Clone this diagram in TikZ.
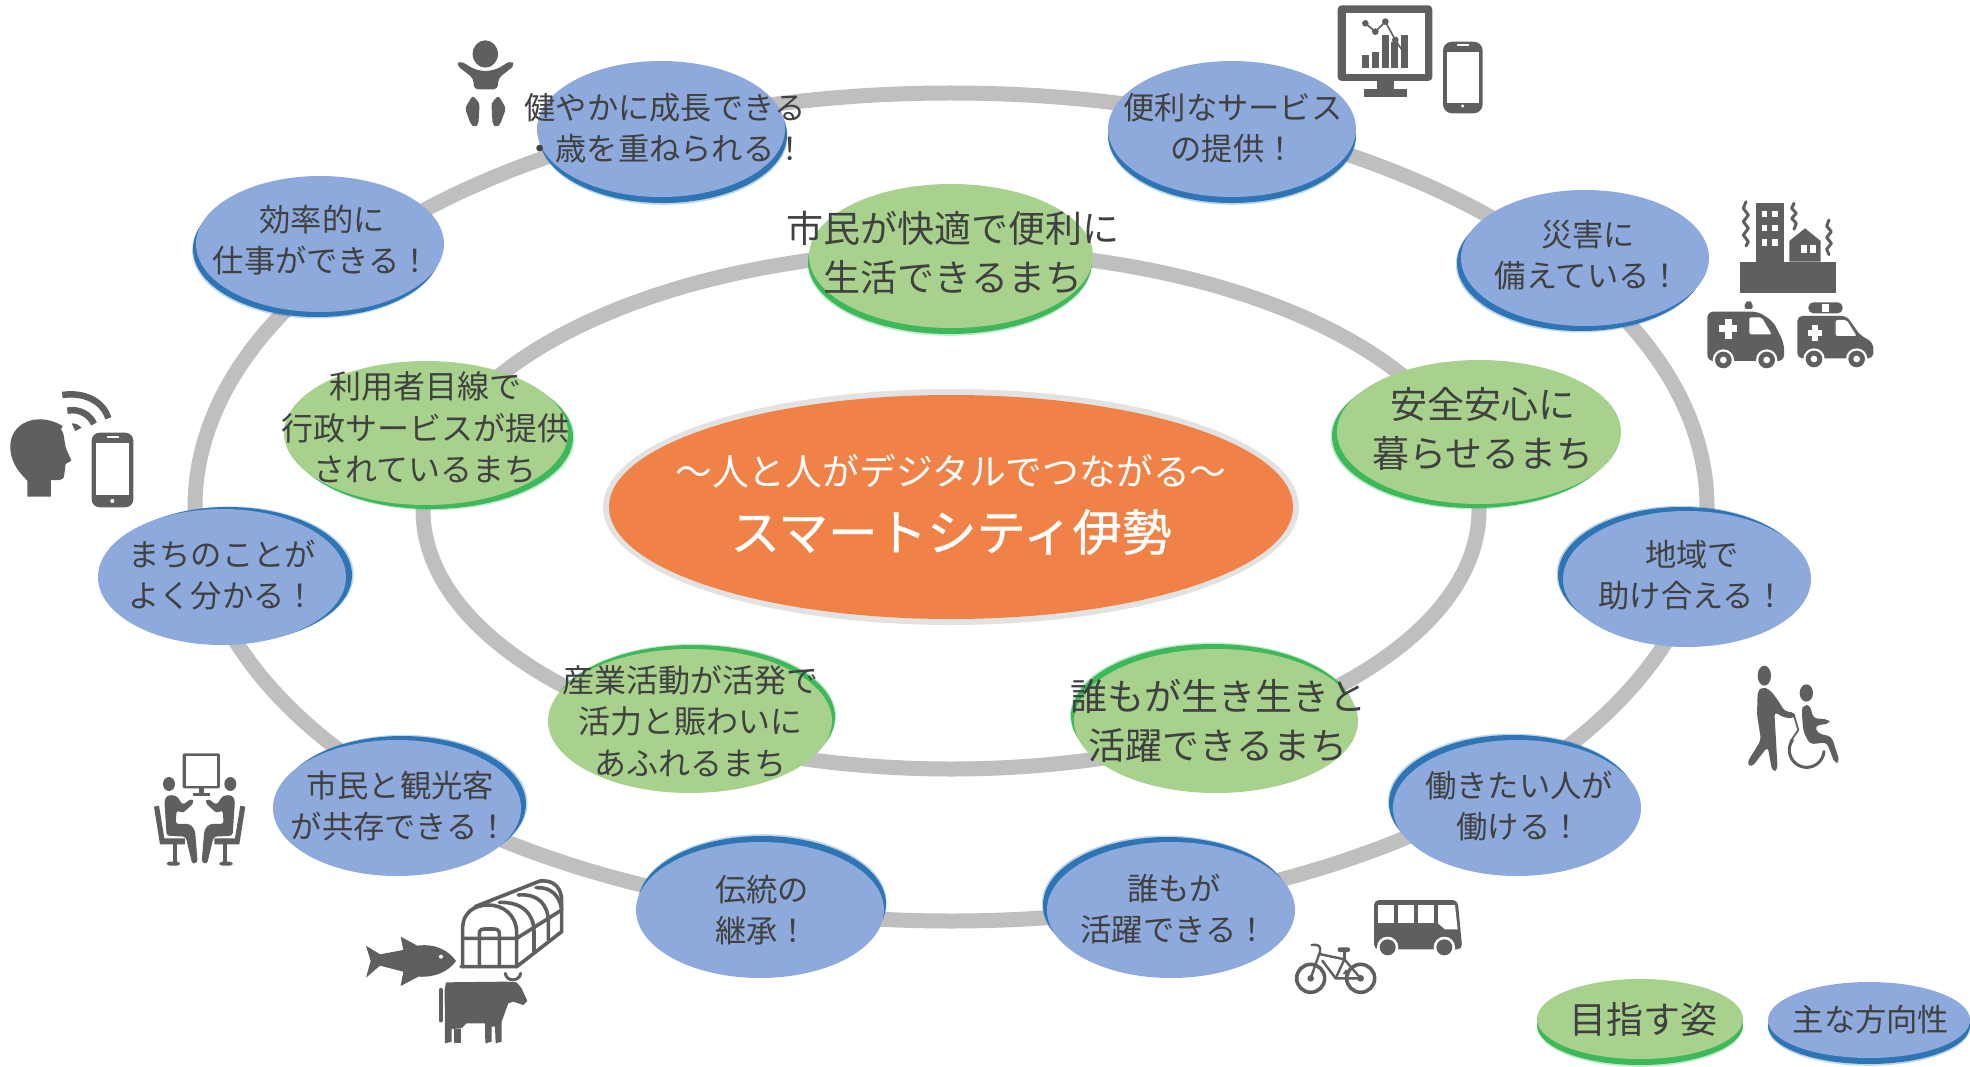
\documentclass[tikz,border=0pt]{standalone}
\usepackage{fontspec}
\newfontfamily\jpfont{Noto Sans CJK JP}
\newfontfamily\jpheavy[FakeBold=0.7]{Noto Sans CJK JP}
\usetikzlibrary{shapes.geometric,shadows}
\definecolor{ringgrey}{HTML}{BFBFBF}
\definecolor{icongrey}{HTML}{5F5F5F}
\definecolor{textgrey}{HTML}{404040}
\definecolor{bluefill}{HTML}{8EA9DB}
\definecolor{blueshade}{HTML}{2E75B6}
\definecolor{greenfill}{HTML}{A9D18E}
\definecolor{greenshade}{HTML}{3DB85A}
\definecolor{orangefill}{HTML}{F08247}
\tikzset{
  ringline/.style={draw=ringgrey,line width=15pt},
  bluenode/.style 2 args={ellipse,fill=bluefill,draw=none,inner sep=0pt,outer sep=0pt,minimum width=248pt,minimum height=136pt,
    general shadow={shadow xshift=#1*1.3pt,shadow yshift=#2*1.3pt,fill=blueshade,opacity=.3},
    general shadow={shadow xshift=#1*1pt,shadow yshift=#2*1pt,fill=blueshade}},
  greennode/.style 2 args={ellipse,fill=greenfill,draw=none,inner sep=0pt,outer sep=0pt,minimum width=284pt,minimum height=144pt,
    general shadow={shadow xshift=#1*1.3pt,shadow yshift=#2*1.3pt,fill=greenshade,opacity=.3},
    general shadow={shadow xshift=#1*1pt,shadow yshift=#2*1pt,fill=greenshade}},
  bluetext/.style={align=center,inner sep=0pt,text=textgrey,font=\jpfont\fontsize{31.3}{41.5}\selectfont},
  greentext/.style={align=center,inner sep=0pt,text=textgrey,font=\jpfont\fontsize{37}{49}\selectfont},
  smalltext/.style={align=center,inner sep=0pt,text=textgrey,font=\jpfont\fontsize{32}{41.5}\selectfont},
  icon/.style={fill=icongrey,draw=none},
  iconline/.style={draw=icongrey,line width=3.6pt,line join=round,line cap=round,fill=none},
  sitter/.pic={
    \fill[icongrey] (72,117) ellipse [x radius=18,y radius=21];
    \fill[icongrey,rounded corners=3pt] (58,165) -- (68,150) -- (95,152) -- (113,180) -- (140,160) -- (148,172) -- (113,205) -- (95,195) -- (92,237) -- (135,237) -- (150,255) -- (158,352) -- (142,358) -- (122,275) -- (65,272) -- cycle;
    \fill[icongrey] (27,185) -- (42,182) -- (58,280) -- (120,280) -- (120,298) -- (45,298) -- cycle;
    \fill[icongrey] (83,298) rectangle (95,352);
    \fill[icongrey,rounded corners=3pt] (65,350) rectangle (105,362);
  }
}
\begin{document}
\begin{tikzpicture}[x=1pt,y=-1pt]
        \useasboundingbox (0,0) rectangle (1970,1067);
        %%%%%%%%%% Rings %%%%%%%%%%
        \coordinate (ringcenter) at (951,507);
        \draw[ringline] (ringcenter) ellipse [x radius=756pt,y radius=414pt];
        \draw[ringline] (951,510) ellipse [x radius=528pt,y radius=259pt];

        %%%%%%%%%% Ellipses %%%%%%%%%%
        \node[ellipse,fill=black!45,opacity=.25,inner sep=0pt,minimum width=696pt,minimum height=236pt] (titleshade) at (951,507) {};
        \node[ellipse,fill=orangefill,inner sep=0pt,minimum width=684pt,minimum height=224pt] (title) at (951,507) {};

        \node[greennode={-1}{-6}] (shimin) at (951,256) {};
        \node[greennode={-5}{-4}] (anzen) at (1479,432) {};
        \node[greennode={-3}{5}] (dare) at (1216,721) {};
        \node[greennode={3}{4}] (sangyo) at (690,721) {};
        \node[greennode={5}{-4}] (riyo) at (426,433) {};

        \node[bluenode={2}{-6}] (kenko) at (661,129) {};
        \node[bluenode={0}{-6}] (benri) at (1232,129) {};
        \node[bluenode={-4}{-5}] (saigai) at (1585,258) {};
        \node[bluenode={-5}{4}] (chiiki) at (1687,579) {};
        \node[bluenode={-4}{5}] (hataraki) at (1517,808) {};
        \node[bluenode={-4}{5}] (dareka) at (1171,910) {};
        \node[bluenode={2}{6}] (dento) at (760,910) {};
        \node[bluenode={5}{4}] (kanko) at (397,808) {};
        \node[bluenode={6}{2}] (machi) at (222,577) {};
        \node[bluenode={-3}{-5}] (koritsu) at (320,244) {};

        \node[greennode={0}{-6},minimum width=206pt,minimum height=80pt] (mezasu) at (1640,1019) {};
        \node[bluenode={0}{-6},minimum width=202pt,minimum height=76pt] (hoko) at (1869,1020) {};

        %%%%%%%%%% Texts %%%%%%%%%%
        \node[align=center,inner sep=0pt,text=white,font=\jpfont\fontsize{36.8}{45}\selectfont] (titleA) at (951,471) {～人と人がデジタルでつながる～};
        \node[align=center,inner sep=0pt,text=white,font=\jpheavy\fontsize{49.5}{55}\selectfont] (titleB) at (951,532) {スマートシティ伊勢};

        \node[greentext] (shiminT) at (953,253) {市民が快適で便利に\\生活できるまち};
        \node[greentext] (anzenT) at (1483,429) {安全安心に\\暮らせるまち};
        \node[greentext] (dareT) at (1218,721) {誰もが生き生きと\\活躍できるまち};
        \node[smalltext] (sangyoT) at (690,721) {産業活動が活発で\\活力と賑わいに\\あふれるまち};
        \node[smalltext] (riyoT) at (425,428) {利用者目線で\\行政サービスが提供\\されているまち};

        \node[bluetext] (kenkoT) at (665,128) {健やかに成長できる\\・歳を重ねられる！};
        \node[bluetext] (benriT) at (1233,128) {便利なサービス\\の提供！};
        \node[bluetext] (saigaiT) at (1588,255) {災害に\\備えている！};
        \node[bluetext] (chiikiT) at (1692,575) {地域で\\助け合える！};
        \node[bluetext] (hatarakiT) at (1519,806) {働きたい人が\\働ける！};
        \node[bluetext] (darekaT) at (1174,909) {誰もが\\活躍できる！};
        \node[bluetext] (dentoT) at (762,910) {伝統の\\継承！};
        \node[bluetext] (kankoT) at (400,806) {市民と観光客\\が共存できる！};
        \node[bluetext] (machiT) at (222,575) {まちのことが\\よく分かる！};
        \node[bluetext] (koritsuT) at (322,240) {効率的に\\仕事ができる！};

        \node[greentext] (mezasuT) at (1643,1019) {目指す姿};
        \node[bluetext] (hokoT) at (1871,1020) {主な方向性};

        %%%%%%%%%% Baby %%%%%%%%%%
        \begin{scope}[shift={(445,30)},x=.3333pt,y=-.3333pt]
          \fill[icongrey] (121,72) ellipse [x radius=38,y radius=41];
          \fill[icongrey,rounded corners=4pt] (45,92) -- (88,118) -- (121,124) -- (155,118) -- (197,92) -- (210,105) -- (160,145) -- (158,178) -- (87,178) -- (85,145) -- (34,105) -- cycle;
          \fill[icongrey,rounded corners=3pt] (83,196) -- (104,220) -- (100,284) -- (88,292) -- (77,282) -- (60,235) -- cycle;
          \fill[icongrey,rounded corners=3pt] (160,196) -- (139,220) -- (143,284) -- (155,292) -- (166,282) -- (183,235) -- cycle;
        \end{scope}

        %%%%%%%%%% Monitor and phone %%%%%%%%%%
        \begin{scope}[shift={(1330,0)},x=.3333pt,y=-.3333pt]
          \fill[icongrey,rounded corners=4pt] (23,16) rectangle (307,243);
          \fill[white] (47,40) rectangle (285,222);
          \fill[icongrey] (140,243) rectangle (192,267);
          \fill[icongrey] (102,267) rectangle (230,291);
          \foreach \bx/\by in {96/165,126/156,156/104,183/127,213/104}
            \fill[icongrey] (\bx,\by) rectangle (\bx+22,203);
          \draw[icongrey,line width=1.6pt] (106,70) -- (136,95) -- (166,65) -- (196,120) -- (216,150);
          \foreach \cx/\cy in {106/70,136/95,166/65,196/120}
            \fill[icongrey] (\cx,\cy) circle [radius=10];
          \fill[icongrey,rounded corners=9pt] (339,125) rectangle (458,340);
          \fill[white] (350,155) rectangle (446,308);
          \fill[white] (381,133) rectangle (416,139);
          \fill[white] (398,318) circle [radius=5];
        \end{scope}

        %%%%%%%%%% Quake and ambulances %%%%%%%%%%
        \begin{scope}[shift={(1660,180)},x=.3333pt,y=-.3333pt]
          \draw[iconline,line width=3pt] (258,65) -- (250,85) -- (265,105) -- (250,125) -- (265,145) -- (250,165) -- (265,185) -- (258,198);
          \draw[iconline,line width=3pt] (402,70) -- (395,85) -- (409,100) -- (395,115) -- (409,130) -- (402,148);
          \draw[iconline,line width=3pt] (507,120) -- (500,138) -- (514,155) -- (500,172) -- (514,190) -- (500,208) -- (507,224);
          \fill[icongrey] (287,70) rectangle (371,245);
          \foreach \wx in {305,337} \foreach \wy in {92,135,178}
            \fill[white] (\wx,\wy) rectangle (\wx+17,\wy+19);
          \fill[icongrey] (388,245) -- (388,183) -- (435,145) -- (482,183) -- (482,245) -- cycle;
          \fill[white] (423,195) rectangle (440,220);
          \fill[white] (450,195) rectangle (467,220);
          \fill[icongrey] (240,245) rectangle (528,340);
          \fill[icongrey,rounded corners=6pt] (142,543) -- (142,395) -- (295,395) -- (340,425) -- (372,490) -- (372,543) -- cycle;
          \fill[icongrey,rounded corners=2pt] (254,387) -- (254,370) -- (266,360) -- (278,370) -- (278,387) -- cycle;
          \fill[white] (177,435) rectangle (232,457);
          \fill[white] (195,417) rectangle (217,477);
          \fill[white,rounded corners=2pt] (268,412) -- (305,412) -- (335,463) -- (268,463) -- cycle;
          \fill[icongrey,rounded corners=5pt] (412,535) -- (412,408) -- (560,408) -- (600,465) -- (640,488) -- (640,535) -- cycle;
          \fill[icongrey,rounded corners=5pt] (445,367) rectangle (548,400);
          \fill[white] (487,372) rectangle (508,395);
          \fill[white] (444,450) rectangle (486,468);
          \fill[white] (456,435) rectangle (474,482);
          \fill[white,rounded corners=2pt] (527,420) -- (560,420) -- (590,468) -- (527,468) -- cycle;
          \foreach \cx/\cy in {190/540,320/540,462/537,590/537}{
            \fill[white] (\cx,\cy) circle [radius=32];
            \fill[icongrey] (\cx,\cy) circle [radius=25];
            \fill[white] (\cx,\cy) circle [radius=10];
          }
        \end{scope}

        %%%%%%%%%% Head and phone %%%%%%%%%%
        \begin{scope}[shift={(0,370)},x=.3333pt,y=-.3333pt]
          \fill[icongrey] (82,380) -- (82,332) .. controls (50,300) and (30,270) .. (31,228) .. controls (32,175) and (75,148) .. (118,148) .. controls (145,148) and (165,155) .. (188,168) -- (183,178) -- (190,190) -- (197,232) -- (214,272) -- (197,282) -- (192,320) .. controls (190,330) and (175,332) .. (153,330) -- (153,380) -- cycle;
          \draw[icongrey,line width=6.5pt] (187,75) .. controls (255,65) and (310,95) .. (325,145);
          \draw[icongrey,line width=6.5pt] (202,122) .. controls (240,115) and (270,135) .. (282,162);
          \fill[icongrey] (215,160) .. controls (228,160) and (238,165) .. (245,173) -- (226,183) -- cycle;
          \fill[icongrey,rounded corners=8pt] (275,188) rectangle (400,412);
          \fill[white] (289,218) rectangle (388,376);
          \fill[white] (320,198) rectangle (356,205);
          \fill[white] (337,393) circle [radius=6];
        \end{scope}

        %%%%%%%%%% Caregiver and wheelchair %%%%%%%%%%
        \begin{scope}[shift={(1735,655)},x=.3333pt,y=-.3333pt]
          \fill[icongrey] (88,62) ellipse [x radius=20,y radius=30];
          \fill[icongrey,rounded corners=4pt] (68,108) -- (82,96) -- (102,102) -- (125,130) -- (150,170) -- (180,172) -- (180,190) -- (146,188) -- (118,170) -- (128,345) -- (112,350) -- (98,275) -- (50,337) -- (35,325) -- (78,255) -- (66,180) -- cycle;
          \draw[iconline,line width=1.8pt] (176,178) -- (190,225) -- (166,260);
          \draw[iconline,line width=3pt] plot[domain=5:215,samples=40,smooth] ({215+52*cos(\x)},{285+52*sin(\x)});
          \fill[icongrey] (214,114) ellipse [x radius=20,y radius=26];
          \fill[icongrey,rounded corners=4pt] (200,165) -- (205,150) -- (225,150) -- (235,190) -- (280,193) -- (286,205) -- (240,212) -- (248,235) -- (290,245) -- (314,320) -- (300,326) -- (275,262) -- (225,268) -- (205,230) -- cycle;
        \end{scope}

        %%%%%%%%%% Bus and bicycle %%%%%%%%%%
        \begin{scope}[shift={(1285,890)},x=.3333pt,y=-.3333pt]
          \fill[icongrey,rounded corners=5pt] (267,178) -- (267,30) -- (518,30) -- (532,178) -- cycle;
          \fill[white] (278,45) rectangle (328,98);
          \fill[white] (338,45) rectangle (388,98);
          \fill[white] (399,45) rectangle (448,98);
          \fill[white] (459,45) -- (510,45) -- (518,118) -- (480,118) -- (459,100) -- cycle;
          \foreach \cx in {308,478}{
            \fill[white] (\cx,172) circle [radius=32];
            \fill[icongrey] (\cx,172) circle [radius=24];
          }
          \draw[icongrey,line width=3.6pt] (77,265) circle [radius=42];
          \draw[icongrey,line width=3.6pt] (227,265) circle [radius=42];
          \fill[icongrey] (77,265) circle [radius=10];
          \fill[icongrey] (227,265) circle [radius=10];
          \draw[iconline,line width=2.4pt] (77,265) -- (105,185) .. controls (108,168) and (100,162) .. (80,165);
          \draw[iconline,line width=2.4pt] (103,192) -- (178,208) -- (152,265) -- (227,265) -- (178,208);
          \draw[iconline,line width=2.4pt] (112,212) -- (152,265);
          \draw[iconline,line width=2.4pt] (178,208) -- (178,185);
          \fill[icongrey,rounded corners=2pt] (158,172) rectangle (195,186);
          \fill[icongrey] (183,238) -- (195,254) -- (173,252) -- cycle;
        \end{scope}

        %%%%%%%%%% Meeting %%%%%%%%%%
        \begin{scope}[shift={(145,745)},x=.3333pt,y=-.3333pt]
          \fill[icongrey,rounded corners=2pt] (113,25) rectangle (225,130);
          \fill[white] (122,33) rectangle (217,122);
          \fill[icongrey] (163,130) rectangle (177,143);
          \fill[icongrey] (143,143) rectangle (195,153);
          \pic {sitter};
          \pic[xscale=-1] at (328,0) {sitter};
        \end{scope}

        %%%%%%%%%% Fish, greenhouse and cow %%%%%%%%%%
        \begin{scope}[shift={(360,875)},x=.3333pt,y=-.3333pt]
          \fill[icongrey] (18,212) -- (60,238) -- (130,225) -- (122,185) -- (172,212) .. controls (225,205) and (265,225) .. (288,258) .. controls (265,290) and (225,308) .. (175,305) -- (122,333) -- (130,290) -- (60,272) -- (18,308) -- (32,258) -- cycle;
          \fill[white] (243,245) circle [radius=6];
          \draw[iconline] (303,275) -- (470,275) -- (605,170) -- (605,70) .. controls (600,30) and (575,15) .. (540,18) -- (345,95);
          \draw[iconline] (308,275) -- (308,155) .. controls (310,115) and (340,90) .. (385,90) .. controls (430,90) and (468,120) .. (470,170) -- (470,275);
          \draw[iconline] (308,190) -- (470,190) -- (605,105);
          \draw[iconline] (358,275) -- (358,175) .. controls (358,165) and (365,162) .. (375,162) -- (400,162) .. controls (410,162) and (418,165) .. (418,175) -- (418,275);
          \draw[iconline] (418,82) .. controls (490,80) and (522,120) .. (522,170) -- (522,230);
          \draw[iconline] (475,60) .. controls (535,55) and (565,90) .. (565,140) -- (565,195);
          \draw[iconline] (528,38) .. controls (570,35) and (600,60) .. (605,105);
          \fill[icongrey] (258,322) -- (437,320) -- (470,322) -- (485,340) -- (502,378) -- (490,390) -- (460,380) -- (445,385) -- (425,440) -- (425,500) -- (407,505) -- (405,455) -- (395,455) -- (395,500) -- (376,505) -- (375,445) -- (320,445) -- (305,460) -- (275,462) -- (275,500) -- (255,505) -- (254,345) -- cycle;
          \fill[icongrey] (283,462) rectangle (303,503);
          \draw[iconline,line width=4.4pt] (243,345) -- (243,436);
          \draw[iconline,line width=3pt] (436,295) .. controls (438,320) and (478,322) .. (482,295);
        \end{scope}
    \end{tikzpicture}
\end{document}
